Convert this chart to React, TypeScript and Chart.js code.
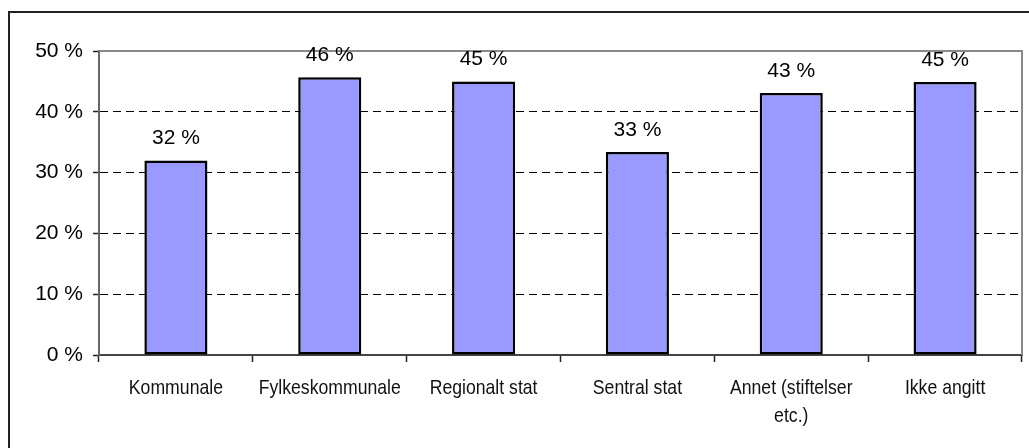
import React, { useEffect, useRef } from "react";
import { Chart, registerables } from "chart.js";

Chart.register(...registerables);

const categories: (string | string[])[] = [
  "Kommunale",
  "Fylkeskommunale",
  "Regionalt stat",
  "Sentral stat",
  ["Annet (stiftelser", "etc.)"],
  "Ikke angitt",
];
const values = [32, 45.7, 45, 33.4, 43.1, 44.9];
const valueLabels = ["32 %", "46 %", "45 %", "33 %", "43 %", "45 %"];
const yMin = 0;
const yMax = 50;
const yStep = 10;

const SANS = "'Liberation Sans', Arial, sans-serif";

const framePlugin = {
  id: "plotFrame",
  afterDraw(chart: any) {
    const { ctx, chartArea } = chart;
    ctx.save();
    ctx.strokeStyle = "#8a8a8a";
    ctx.lineWidth = 2;
    ctx.beginPath();
    ctx.moveTo(chartArea.left, chartArea.top);
    ctx.lineTo(chartArea.right, chartArea.top);
    ctx.lineTo(chartArea.right, chartArea.bottom);
    ctx.stroke();
    ctx.restore();
  },
};

// Category labels drawn in a condensed (Arial Narrow-like) style
const xLabelPlugin = {
  id: "narrowXLabels",
  afterDraw(chart: any) {
    const { ctx } = chart;
    const xs = chart.scales.x;
    const squeeze = 0.84;
    ctx.save();
    ctx.fillStyle = "#111";
    ctx.font = `21px ${SANS}`;
    ctx.textAlign = "center";
    ctx.textBaseline = "alphabetic";
    categories.forEach((c, i) => {
      const lines = Array.isArray(c) ? c : [c];
      const x = xs.getPixelForTick(i);
      lines.forEach((line, k) => {
        const y = xs.top + 39 + k * 27.5;
        ctx.save();
        ctx.translate(x, y);
        ctx.scale(squeeze, 1);
        ctx.fillText(line, 0, 0);
        ctx.restore();
      });
    });
    ctx.restore();
  },
};

const labelPlugin = {
  id: "valueLabels",
  afterDraw(chart: any) {
    const { ctx } = chart;
    const meta = chart.getDatasetMeta(0);
    ctx.save();
    ctx.fillStyle = "#000";
    ctx.font = `21px ${SANS}`;
    ctx.textAlign = "center";
    ctx.textBaseline = "alphabetic";
    meta.data.forEach((bar: any, i: number) => {
      ctx.fillText(valueLabels[i], bar.x, bar.y - 16);
    });
    ctx.restore();
  },
};

export default function App() {
  const ref = useRef<HTMLCanvasElement | null>(null);

  useEffect(() => {
    if (!ref.current) return;
    const chart = new Chart(ref.current, {
      type: "bar",
      data: {
        labels: categories as any,
        datasets: [
          {
            data: values,
            backgroundColor: "#9999ff",
            borderColor: "#000",
            borderWidth: 2.5,
            borderSkipped: false,
            categoryPercentage: 1,
            barPercentage: 0.41,
          },
        ],
      },
      options: {
        responsive: false,
        animation: false,
        devicePixelRatio: 1,
        layout: { padding: { left: 0, top: 51, right: 7, bottom: 0 } },
        plugins: {
          legend: { display: false },
          tooltip: { enabled: false },
          title: { display: false },
        },
        scales: {
          x: {
            afterFit: (s: any) => {
              s.height = 93;
            },
            grid: {
              offset: true,
              drawOnChartArea: false,
              drawTicks: true,
              tickLength: 7,
              tickColor: "#222",
              tickWidth: 1.5,
            },
            border: { display: true, color: "#444", width: 2 },
            ticks: {
              display: false,
              autoSkip: false,
            },
          },
          y: {
            min: yMin,
            max: yMax,
            afterFit: (s: any) => {
              s.width = 99;
            },
            grid: {
              color: "#000",
              lineWidth: 1,
              drawTicks: true,
              tickLength: 6,
              tickColor: "#222",
              tickWidth: 1.5,
              tickBorderDash: [],
            },
            border: { display: true, color: "#666", width: 2, dash: [8, 5] },
            ticks: {
              stepSize: yStep,
              color: "#000",
              padding: 10,
              font: { family: SANS, size: 21 },
              callback: (v: any) => `${v} %`,
            },
          },
        },
      },
      plugins: [framePlugin, xLabelPlugin, labelPlugin],
    });
    return () => chart.destroy();
  }, []);

  return (
    <div
      style={{
        position: "fixed",
        left: 0,
        top: 0,
        width: 1029,
        height: 448,
        overflow: "hidden",
        background: "#fff",
      }}
    >
      <div
        style={{
          position: "absolute",
          left: 8,
          top: 11,
          width: 1100,
          height: 500,
          border: "2px solid #222",
        }}
      />
      <canvas
        ref={ref}
        width={1029}
        height={448}
        style={{ position: "absolute", left: 0, top: 0, width: 1029, height: 448 }}
      />
    </div>
  );
}
